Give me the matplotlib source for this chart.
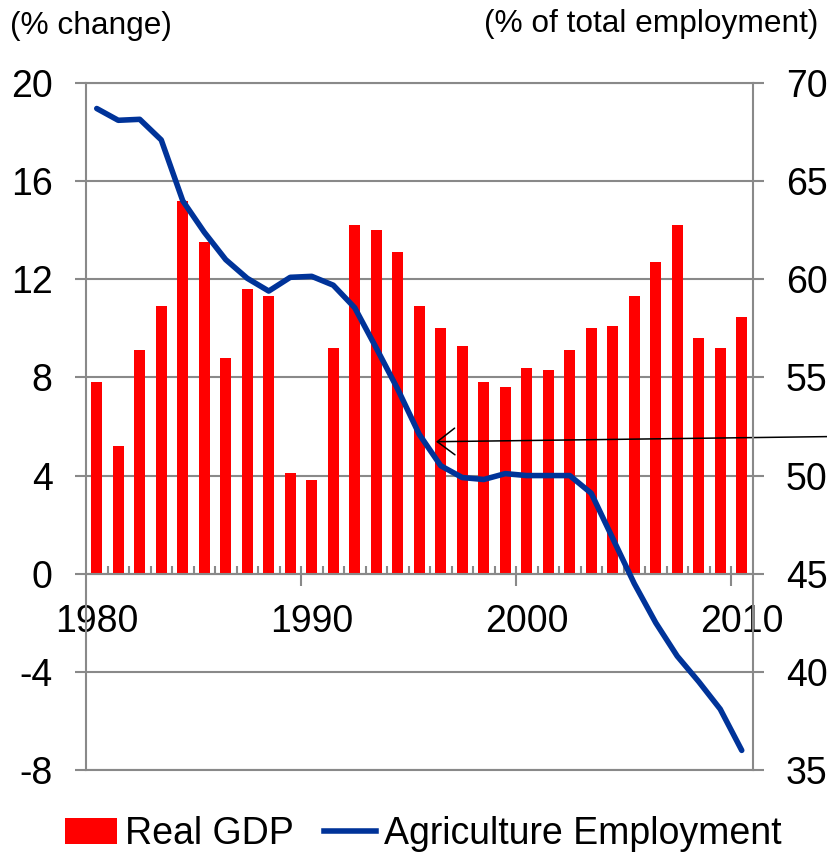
import numpy as np
import matplotlib
matplotlib.use("Agg")
import matplotlib.pyplot as plt
from matplotlib.patches import Patch
from matplotlib.lines import Line2D

plt.rcParams['font.family'] = ['Liberation Sans', 'DejaVu Sans']

years = list(range(1980, 2011))
real_gdp = [7.8, 5.2, 9.1, 10.9, 15.2, 13.5, 8.8, 11.6, 11.3, 4.1,
            3.8, 9.2, 14.2, 14.0, 13.1, 10.9, 10.0, 9.3, 7.8, 7.6,
            8.4, 8.3, 9.1, 10.0, 10.1, 11.3, 12.7, 14.2, 9.6, 9.2, 10.45]
agri_emp = [68.7, 68.1, 68.15, 67.1, 64.0, 62.4, 61.0, 60.05, 59.4, 60.1,
            60.15, 59.7, 58.55, 56.5, 54.4, 52.1, 50.5, 49.9, 49.8, 50.1,
            50.0, 50.0, 50.0, 49.1, 46.8, 44.5, 42.5, 40.8, 39.5, 38.1, 36.0]
left_ticks = [-8, -4, 0, 4, 8, 12, 16, 20]
right_ticks = [35, 40, 45, 50, 55, 60, 65, 70]
x_labels = [1980, 1990, 2000, 2010]

GRAY = '#898989'
RED = '#FF0000'
BLUE = '#003399'

fig = plt.figure(figsize=(8.27, 8.55), dpi=100)
ax = fig.add_axes([86/827, 1-770/855, (752.5-86)/827, (770-83)/855])
ax2 = ax.twinx()

ax.bar(years, real_gdp, width=0.5, color=RED, zorder=2)
ax2.plot(years, agri_emp, color=BLUE, lw=4.0, solid_joinstyle='round',
         solid_capstyle='round', zorder=3)

ax.set_xlim(1979.5, 2010.5)
ax.set_ylim(-8, 20)
ax2.set_ylim(35, 70)
ax.set_yticks(left_ticks)
ax2.set_yticks(right_ticks)
ax.set_yticklabels([str(v) for v in left_ticks])
ax2.set_yticklabels([str(v) for v in right_ticks])

ax.grid(axis='y', color=GRAY, lw=1.5)
ax.set_axisbelow(True)

for s in ['top', 'right']:
    ax.spines[s].set_visible(False)
ax.spines['left'].set_color(GRAY)
ax.spines['left'].set_linewidth(1.5)
ax.spines['bottom'].set_position(('data', 0))
ax.spines['bottom'].set_color(GRAY)
ax.spines['bottom'].set_linewidth(1.5)
ax2.spines['left'].set_visible(False)
for s in ['top', 'bottom', 'right']:
    ax2.spines[s].set_color(GRAY)
    ax2.spines[s].set_linewidth(1.5)

ax.tick_params(axis='y', direction='out', length=8, width=1.5, color=GRAY,
               pad=16, labelsize=27, labelcolor='black')
ax2.tick_params(axis='y', direction='out', length=8, width=1.5, color=GRAY,
                pad=16, labelsize=27, labelcolor='black')

ax.set_xticks(x_labels)
ax.set_xticklabels([str(v) for v in x_labels])
ax.tick_params(axis='x', which='major', length=0, pad=22, labelsize=27,
               labelcolor='black')
ax.set_xticks(np.arange(1980.5, 2010, 1.0), minor=True)
ax.tick_params(axis='x', which='minor', direction='in', length=6, width=1.5,
               color=GRAY)

sec = ax.secondary_xaxis(8/28)
sec.set_xticks([1989.5, 1999.5, 2009.5])
sec.set_xticklabels(['', '', ''])
sec.tick_params(axis='x', direction='out', length=8.5, width=1.5, color=GRAY)
for s in sec.spines.values():
    s.set_visible(False)

# arrow annotation
ax.annotate('', xy=(1995.78, 5.38), xycoords='data',
            xytext=(1.01, 1-436.5/855), textcoords='figure fraction',
            arrowprops=dict(arrowstyle='->, head_length=0.42, head_width=0.32',
                            mutation_scale=30, color='black', lw=1.1,
                            shrinkA=0, shrinkB=0),
            annotation_clip=False, zorder=5)

fig.text(10/827, 1-26/855, '(% change)', ha='left', va='center', fontsize=22.8)
fig.text(818/827, 1-24/855, '(% of total employment)', ha='right',
         va='center', fontsize=22.8)

handles = [Patch(facecolor=RED, edgecolor='none'),
           Line2D([0], [0], color=BLUE, lw=4.0)]
fig.legend(handles, ['Real GDP', 'Agriculture Employment'], loc='center',
           bbox_to_anchor=(423/827, 1-834/855), ncol=2, frameon=False,
           fontsize=27, handlelength=1.4, handletextpad=0.2,
           columnspacing=0.8, borderpad=0, borderaxespad=0)

fig.savefig('out.png', dpi=100)
